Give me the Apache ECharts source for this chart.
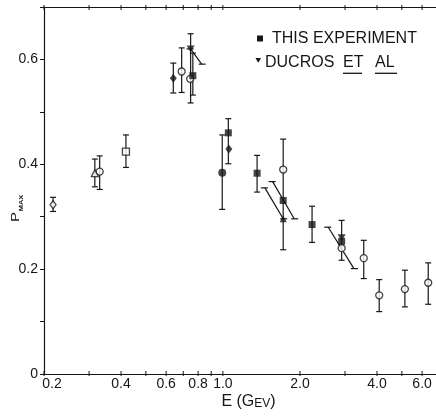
<!DOCTYPE html>
<html>
<head>
<meta charset="UTF-8">
<title>P max vs E</title>
<script src="https://cdn.jsdelivr.net/npm/echarts@6/dist/echarts.min.js"></script>
<style>
html,body{margin:0;padding:0;background:#fff}
#chart{width:436px;height:417px}
</style>
</head>
<body>
<div id="chart"></div>
<script>
// points: [E (GeV), P max]
var thisExp = [[0.763,0.569],[1.05,0.460],[1.36,0.383],[1.72,0.331],[2.23,0.285],[2.91,0.253]];
var ducros = [[0.748,0.620],[2.91,0.260]];
var fullDiamond = [[0.64,0.564],[1.055,0.429]];
var fullCircle = [[0.994,0.384]];
var fullTriangle = [[1.72,0.296]];
var openCircle = [[0.33,0.386],[0.69,0.577],[0.745,0.563],[1.72,0.390],[2.91,0.240],[3.55,0.221],[4.08,0.150],[5.14,0.162],[6.34,0.174]];
var openTriangle = [[0.316,0.383]];
var openSquare = [[0.418,0.424]];
var openDiamond = [[0.217,0.323]];

// vertical error bars: [E, low, high]
var errBars = [[0.217,0.310,0.337],[0.316,0.357,0.410],[0.33,0.352,0.416],[0.418,0.394,0.456],
  [0.64,0.536,0.593],[0.69,0.537,0.622],[0.748,0.517,0.649],[0.763,0.532,0.612],
  [0.994,0.314,0.456],[1.05,0.401,0.487],[1.36,0.347,0.417],[1.72,0.237,0.448],
  [2.23,0.251,0.320],[2.91,0.217,0.293],[3.55,0.182,0.255],[4.08,0.119,0.180],
  [5.14,0.128,0.198],[6.34,0.133,0.212]];

// slanted bars: [E1, P1, E2, P2]
var slants = [[0.748,0.620,0.826,0.591],[1.459,0.355,1.72,0.296],[1.564,0.367,1.899,0.296],[2.58,0.280,3.25,0.201]];

var xMajorTicks = [0.2,0.4,0.6,0.8,1.0,2.0,4.0,6.0];
var xMajorLabels = ['0.2','0.4','0.6','0.8','1.0','2.0','4.0','6.0'];
var xMinorTicks = [0.3,0.5,0.7,0.9,3.0,5.0];

var ink = '#161616';
var font = 'Liberation Sans';
var yTop = 0.7;

var chart = echarts.init(document.getElementById('chart'));

function tickItem(params, api, withLabel){
  var v = api.value(0);
  var b = api.coord([v, 0]);
  var t = api.coord([v, yTop]);
  var kids = [
    {type:'line', shape:{x1:b[0],y1:b[1]-3,x2:b[0],y2:b[1]+2}, style:{stroke:ink,lineWidth:1}},
    {type:'line', shape:{x1:t[0],y1:t[1]-2,x2:t[0],y2:t[1]+3}, style:{stroke:ink,lineWidth:1}}
  ];
  if (withLabel) {
    var i = params.dataIndex;
    kids.push({type:'text', x:b[0] + (i === 0 ? 8 : 0), y:b[1] + 3,
      style:{text:xMajorLabels[i], fill:ink, font:'14px ' + font, align:'center', verticalAlign:'top'}});
  }
  return {type:'group', children:kids};
}

function scatter(data, symbol, size, filled, z){
  return {
    type:'scatter', data:data, symbol:symbol, symbolSize:size, z:z || 5,
    itemStyle: filled ? {color:ink} : {color:'#fff', borderColor:ink, borderWidth:1.3},
    emphasis:{disabled:true}
  };
}

var option = {
  backgroundColor:'#fff',
  animation:false,
  grid:{left:44, right:0, top:7, bottom:43},
  xAxis:[{
    type:'log', logBase:10, min:0.2, max:6.8,
    axisLine:{lineStyle:{color:ink, width:1.2}},
    axisTick:{show:false}, axisLabel:{show:false}, splitLine:{show:false}
  },{
    type:'log', logBase:10, min:0.2, max:6.8, position:'top',
    axisLine:{show:true, lineStyle:{color:ink, width:1.2}},
    axisTick:{show:false}, axisLabel:{show:false}, splitLine:{show:false}
  }],
  yAxis:{
    type:'value', min:0, max:yTop, interval:0.1,
    axisLine:{show:true, lineStyle:{color:ink, width:1.2}},
    axisTick:{show:true, length:4, lineStyle:{color:ink}},
    splitLine:{show:false},
    axisLabel:{
      color:ink, fontFamily:font, fontSize:14, margin:6,
      formatter:function(v){
        var k = Math.round(v * 10);
        if (k % 2 !== 0 || k > 6) return '';
        return k === 0 ? '0' : (k / 10).toFixed(1);
      }
    }
  },
  graphic:[
    {type:'rect', shape:{x:257, y:35.5, width:6, height:6}, style:{fill:ink}},
    {type:'text', x:272, y:38.5, style:{text:'THIS EXPERIMENT', fill:ink, font:'16px ' + font, verticalAlign:'middle'}},
    {type:'polygon', shape:{points:[[255.5,58],[261,58],[258.2,62.8]]}, style:{fill:ink}},
    {type:'text', x:265, y:62.5, style:{text:'DUCROS', fill:ink, font:'16px ' + font, verticalAlign:'middle'}},
    {type:'text', x:343, y:62.5, style:{text:'ET', fill:ink, font:'16px ' + font, verticalAlign:'middle'}},
    {type:'text', x:375, y:62.5, style:{text:'AL', fill:ink, font:'16px ' + font, verticalAlign:'middle'}},
    {type:'line', shape:{x1:343, y1:73.3, x2:362, y2:73.3}, style:{stroke:ink, lineWidth:1.3}},
    {type:'line', shape:{x1:375, y1:73.3, x2:397, y2:73.3}, style:{stroke:ink, lineWidth:1.3}},
    {type:'text', x:16.5, y:217, rotation:Math.PI/2, scaleY:0.7,
      style:{text:'P', fill:ink, font:'15px ' + font, align:'center', verticalAlign:'middle'}},
    {type:'text', x:21, y:203, rotation:Math.PI/2, scaleY:0.75,
      style:{text:'MAX', fill:ink, font:'bold 7.5px ' + font, align:'center', verticalAlign:'middle'}},
    {type:'text', x:248.5, y:402,
      style:{text:'{a|E (G}{b|EV}{a|)}', fill:ink, align:'center', verticalAlign:'middle',
        rich:{a:{fontSize:16, fontFamily:font, fill:ink, verticalAlign:'bottom'},
              b:{fontSize:12, fontFamily:font, fill:ink, verticalAlign:'bottom'}}}}
  ],
  series:[
    {type:'custom', data:xMajorTicks.map(function(v){ return [v, 0]; }), clip:false, silent:true, z:1,
      encode:{x:0, y:1},
      renderItem:function(p, api){ return tickItem(p, api, true); }},
    {type:'custom', data:xMinorTicks.map(function(v){ return [v, 0]; }), clip:false, silent:true, z:1,
      encode:{x:0, y:1},
      renderItem:function(p, api){ return tickItem(p, api, false); }},
    {type:'custom', data:errBars, clip:false, silent:true, z:2,
      encode:{x:0, y:[1,2]},
      renderItem:function(params, api){
        var e = api.value(0);
        var lo = api.coord([e, api.value(1)]);
        var hi = api.coord([e, api.value(2)]);
        var s = {stroke:ink, lineWidth:1.2};
        return {type:'group', children:[
          {type:'line', shape:{x1:lo[0],y1:lo[1],x2:hi[0],y2:hi[1]}, style:s},
          {type:'line', shape:{x1:lo[0]-3,y1:lo[1],x2:lo[0]+3,y2:lo[1]}, style:s},
          {type:'line', shape:{x1:hi[0]-3,y1:hi[1],x2:hi[0]+3,y2:hi[1]}, style:s}
        ]};
      }},
    {type:'custom', data:slants, clip:false, silent:true, z:2,
      encode:{x:[0,2], y:[1,3]},
      renderItem:function(params, api){
        var a = api.coord([api.value(0), api.value(1)]);
        var b = api.coord([api.value(2), api.value(3)]);
        var s = {stroke:ink, lineWidth:1.2};
        return {type:'group', children:[
          {type:'line', shape:{x1:a[0],y1:a[1],x2:b[0],y2:b[1]}, style:s},
          {type:'line', shape:{x1:a[0]-4,y1:a[1],x2:a[0]+3,y2:a[1]}, style:s},
          {type:'line', shape:{x1:b[0]-3,y1:b[1],x2:b[0]+4,y2:b[1]}, style:s}
        ]};
      }},
    scatter(openCircle, 'circle', 7, false),
    scatter(openTriangle, 'triangle', 7, false),
    scatter(openSquare, 'rect', 7, false),
    scatter(openDiamond, 'diamond', [6,8], false),
    scatter(thisExp, 'rect', 7, true, 6),
    scatter(ducros, 'path://M0,0L10,0L5,9Z', [8,7], true, 7),
    scatter(fullDiamond, 'diamond', [7,9], true),
    scatter(fullCircle, 'circle', 8, true),
    scatter(fullTriangle, 'triangle', 7, true)
  ]
};
chart.setOption(option);
</script>
</body>
</html>
